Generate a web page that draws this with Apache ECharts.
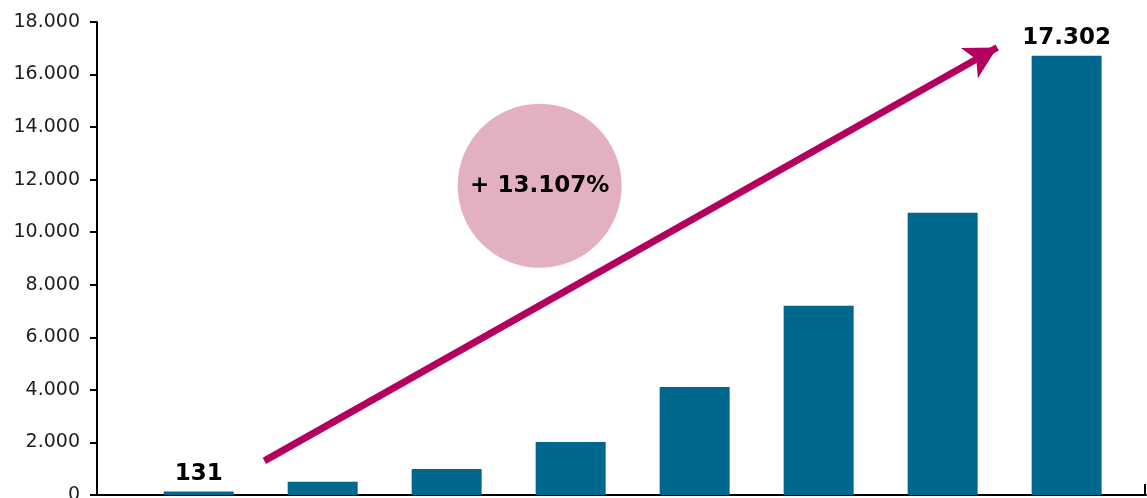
<!DOCTYPE html>
<html>
<head>
<meta charset="utf-8">
<script src="https://cdn.jsdelivr.net/npm/echarts@6/dist/echarts.min.js"></script>
<style>
html,body{margin:0;padding:0;background:#fff;}
#chart{width:1147px;height:498px;}
</style>
</head>
<body>
<div id="chart"></div>
<script>
// Data
var positions = [1, 2, 3, 4, 5, 6, 7, 8];
var values = [131, 500, 990, 2020, 4110, 7200, 10740, 16720];
var valueLabels = ['131', '', '', '', '', '', '', '17.302'];
var yTicks = [0, 2000, 4000, 6000, 8000, 10000, 12000, 14000, 16000, 18000];
var growthText = '+ 13.107%';
var arrowStart = [1.53, 1300];
var arrowEnd = [7.44, 17030];
var circleCenter = [3.75, 11770];
var xRange = [0.18, 8.64];

function fmt(v) {
  return String(Math.round(v)).replace(/\B(?=(\d{3})+(?!\d))/g, '.');
}

var chart = echarts.init(document.getElementById('chart'), null, {renderer: 'canvas'});
var barData = positions.map(function (p, i) { return [p, values[i]]; });

chart.setOption({
  animation: false,
  grid: {left: 97, right: 1, top: 22, bottom: 3, containLabel: false, outerBoundsMode: 'none'},
  xAxis: {
    type: 'value',
    min: xRange[0],
    max: xRange[1],
    axisLine: {show: true, lineStyle: {color: '#000', width: 2}},
    axisTick: {show: true, inside: true, length: 11, customValues: [xRange[1] - 0.01], lineStyle: {color: '#000', width: 2}},
    axisLabel: {show: false},
    splitLine: {show: false}
  },
  yAxis: {
    type: 'value',
    min: yTicks[0],
    max: yTicks[yTicks.length - 1],
    interval: yTicks[1] - yTicks[0],
    axisLine: {show: true, lineStyle: {color: '#000', width: 2}},
    axisTick: {show: true, length: 7, lineStyle: {color: '#000', width: 2}},
    axisLabel: {
      color: '#1e1e1e',
      fontSize: 19,
      fontFamily: 'DejaVu Sans, sans-serif',
      margin: 17,
      formatter: function (v) { return fmt(v); }
    },
    splitLine: {show: false}
  },
  series: [
    {
      type: 'scatter',
      data: [circleCenter],
      symbol: 'circle',
      symbolSize: 164,
      itemStyle: {color: '#E3B0C1', opacity: 1},
      label: {
        show: true,
        position: 'inside',
        formatter: growthText,
        color: '#000',
        fontSize: 23,
        fontWeight: 'bold',
        fontFamily: 'DejaVu Sans, sans-serif'
      },
      z: 1,
      silent: true
    },
    {
      type: 'bar',
      data: barData,
      barWidth: 70,
      itemStyle: {color: '#00678F'},
      label: {
        show: true,
        position: 'top',
        distance: 6,
        color: '#000',
        fontSize: 23,
        fontWeight: 'bold',
        fontFamily: 'DejaVu Sans, sans-serif',
        formatter: function (p) { return valueLabels[p.dataIndex]; }
      },
      z: 2,
      markLine: {
        silent: true,
        symbol: ['none', 'arrow'],
        symbolSize: [26, 32],
        label: {show: false},
        lineStyle: {color: '#B3005F', width: 7, type: 'solid'},
        data: [[{coord: arrowStart}, {coord: arrowEnd}]]
      }
    }
  ]
});
</script>
</body>
</html>
